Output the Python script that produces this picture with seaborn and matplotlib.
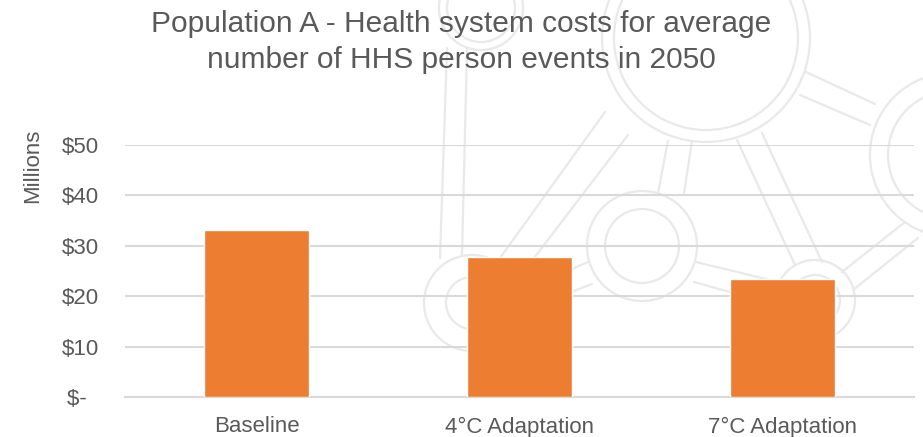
import matplotlib
matplotlib.use("Agg")
import matplotlib.pyplot as plt
from matplotlib.patches import Circle
import seaborn as sns

# Health system costs (millions of dollars) per scenario
categories = ["Baseline", "4°C Adaptation", "7°C Adaptation"]
costs_millions = [33.1, 27.7, 23.5]
y_ticks = [0, 10, 20, 30, 40, 50]
y_tick_labels = ["$-  ", "$10", "$20", "$30", "$40", "$50"]
title = "Population A - Health system costs for average\nnumber of HHS person events in 2050"

sns.set_theme(style="white")
plt.rcParams["font.family"] = ["Liberation Sans", "DejaVu Sans"]

text_color = "#595959"
grid_color = "#d9d9d9"
bar_color = "#ED7D31"
mark_color = "#e9e9e9"

W, H = 923, 437
fig = plt.figure(figsize=(W / 100, H / 100), dpi=100)
fig.patch.set_facecolor("white")

# faint emblem behind the chart, drawn in pixel units
bg = fig.add_axes([0, 0, 1, 1], zorder=0)
bg.set_xlim(0, W)
bg.set_ylim(H, 0)
bg.axis("off")
rings = [((706, 38), 104, 92), ((481, 8), 42, 34), ((642, 246), 55, 37),
         ((472, 303), 48, 26), ((952, 155), 82, 64), ((815, 300), 40, 25)]
for (c, r_out, r_in) in rings:
    for r in (r_out, r_in):
        bg.add_patch(Circle(c, r, fill=False, ec=mark_color, lw=1.6))
arms = [((605, 112), (500, 258)), ((628, 135), (515, 283)),
        ((447, 48), (440, 258)), ((467, 49), (462, 256)),
        ((737, 140), (795, 265)), ((762, 133), (822, 262)),
        ((668, 141), (658, 193)), ((692, 141), (684, 193)),
        ((588, 262), (518, 292)), ((592, 284), (520, 312)),
        ((696, 262), (778, 282)), ((694, 282), (776, 305)),
        ((806, 72), (875, 104)), ((800, 95), (870, 125)),
        ((905, 222), (842, 272)), ((918, 238), (853, 290))]
for (p0, p1) in arms:
    bg.plot([p0[0], p1[0]], [p0[1], p1[1]], color=mark_color, lw=1.6)

ax = fig.add_axes([125 / W, 1 - 397 / H, (914 - 125) / W, (397 - 145) / H], zorder=1)
ax.patch.set_alpha(0)

sns.barplot(x=categories, y=costs_millions, color=bar_color, width=0.4,
            saturation=1, ax=ax, zorder=3)

ax.set_ylim(0, 50)
ax.set_yticks(y_ticks)
ax.set_yticklabels(y_tick_labels)
ax.yaxis.grid(True, color=grid_color, lw=1.5, zorder=0)
ax.set_axisbelow(True)
for s in ["top", "right", "left"]:
    ax.spines[s].set_visible(False)
ax.spines["bottom"].set_color(grid_color)
ax.spines["bottom"].set_linewidth(1.5)
ax.tick_params(axis="y", length=0, pad=19, labelsize=16, labelcolor=text_color)
ax.tick_params(axis="x", length=0, pad=14, labelsize=16, labelcolor=text_color)
ax.set_xlabel("")
ax.set_ylabel("Millions", fontsize=16, color=text_color)
ax.yaxis.set_label_coords(-(125 - 43) / (914 - 125), (397 - 166) / (397 - 145))

fig.text(0.5, 1 - 42 / H, title, ha="center", va="center", fontsize=21.5,
         color=text_color, linespacing=1.35)

fig.savefig("out.png", dpi=100)
